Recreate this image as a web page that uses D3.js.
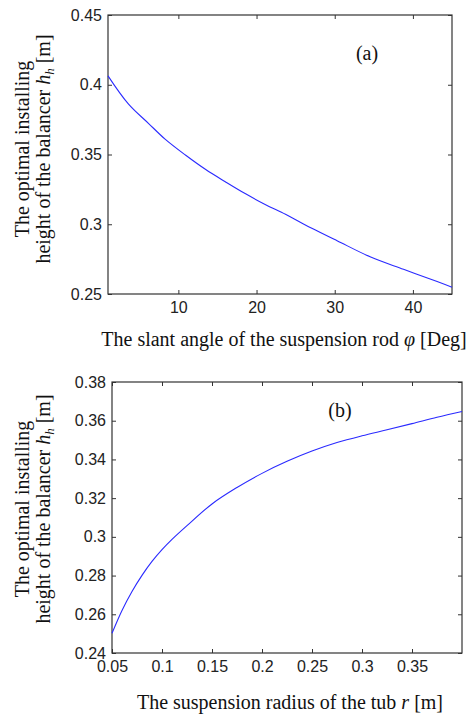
<!DOCTYPE html>
<html><head><meta charset="utf-8">
<script src="https://cdn.jsdelivr.net/npm/d3@7"></script>
<style>
html,body{margin:0;padding:0;background:#fff;}
svg{display:block;}
.tick text{font-family:"Liberation Sans",Arial,sans-serif;font-size:16px;fill:#222;}
.lbl{font-family:"Liberation Serif","Times New Roman",serif;font-size:20px;fill:#111;}
</style>
</head><body>
<script>
// ---- data ----
const angleDeg = [1,3.6,6.2,8.3,10.9,13.5,16,18.6,21.1,23.7,26,30.3,34.6,38.8,43.1,45];
const heightA  = [0.4064,0.3863,0.3722,0.3610,0.3496,0.3392,0.3305,0.3218,0.3142,0.3071,0.3002,0.2882,0.2765,0.2677,0.2589,0.2548];
const radiusM  = [0.05,0.06,0.07,0.08,0.09,0.1,0.11,0.125,0.15,0.175,0.2,0.225,0.25,0.275,0.3,0.325,0.35,0.375,0.4];
const heightB  = [0.2502,0.2620,0.2718,0.2801,0.2873,0.2934,0.2987,0.3058,0.3170,0.3255,0.3328,0.3390,0.3443,0.3487,0.3522,0.3553,0.3585,0.3618,0.3648];
const xTicksA = [10,20,30,40];
const yTicksA = [0.25,0.3,0.35,0.4,0.45];
const xTicksB = [0.05,0.1,0.15,0.2,0.25,0.3,0.35];
const yTicksB = [0.24,0.26,0.28,0.3,0.32,0.34,0.36,0.38];

const W = 470, H = 715;
const svg = d3.select("body").append("svg").attr("width", W).attr("height", H);

function panel(opt){
  const {left,right,top,bottom,xDom,yDom,xs,ys,xt,yt,fmt} = opt;
  const x = d3.scaleLinear().domain(xDom).range([left,right]);
  const y = d3.scaleLinear().domain(yDom).range([bottom,top]);
  const g = svg.append("g");
  const tl = 4;
  const styleAxis = sel => {
    sel.select(".domain").remove();
    sel.selectAll(".tick line").attr("stroke","#333").attr("stroke-width",1);
  };
  g.append("g").attr("transform",`translate(0,${bottom})`)
    .call(d3.axisBottom(x).tickValues(xt).tickFormat(fmt).tickSizeInner(-tl).tickSizeOuter(0).tickPadding(8))
    .call(styleAxis);
  g.append("g").attr("transform",`translate(0,${top})`)
    .call(d3.axisTop(x).tickValues(xt).tickFormat("").tickSizeInner(-tl).tickSizeOuter(0))
    .call(styleAxis);
  g.append("g").attr("transform",`translate(${left},0)`)
    .call(d3.axisLeft(y).tickValues(yt).tickFormat(fmt).tickSizeInner(-tl).tickSizeOuter(0).tickPadding(6))
    .call(styleAxis);
  g.append("g").attr("transform",`translate(${right},0)`)
    .call(d3.axisRight(y).tickValues(yt).tickFormat("").tickSizeInner(-tl).tickSizeOuter(0))
    .call(styleAxis);
  g.append("rect").attr("x",left).attr("y",top).attr("width",right-left).attr("height",bottom-top)
    .attr("fill","none").attr("stroke","#333").attr("stroke-width",1.2);
  const line = d3.line().x((d,i)=>x(xs[i])).y((d,i)=>y(ys[i])).curve(d3.curveCatmullRom.alpha(0.5));
  g.append("path").datum(ys).attr("d",line).attr("fill","none").attr("stroke","#2a2aff").attr("stroke-width",1.1);
  return {x,y,g};
}

const fmt = d => String(+d.toFixed(3));

panel({left:108,right:452,top:15,bottom:294,xDom:[1,45],yDom:[0.25,0.45],
  xs:angleDeg,ys:heightA,xt:xTicksA,yt:yTicksA,fmt});
panel({left:112,right:462,top:382,bottom:653,xDom:[0.05,0.4],yDom:[0.24,0.38],
  xs:radiusM,ys:heightB,xt:xTicksB,yt:yTicksB,fmt});

function ylabel(cx, cy){
  const t = svg.append("text").attr("class","lbl").attr("text-anchor","middle")
    .attr("transform",`translate(${cx},${cy}) rotate(-90)`);
  t.append("tspan").attr("x",0).attr("dy",0).text("The optimal installing");
  const t2 = t.append("tspan").attr("x",0).attr("dy",21.5);
  t2.append("tspan").text("height of the balancer ");
  t2.append("tspan").attr("font-style","italic").text("h");
  t2.append("tspan").attr("font-style","italic").attr("font-size","13px").attr("dy",4).text("h");
  t2.append("tspan").attr("dy",-4).text(" [m]");
}
ylabel(28.5, 149);
ylabel(28.5, 509);

const xl1 = svg.append("text").attr("class","lbl").attr("text-anchor","middle").attr("x",284).attr("y",346);
xl1.append("tspan").text("The slant angle of the suspension rod ");
xl1.append("tspan").attr("font-style","italic").text("φ");
xl1.append("tspan").text("  [Deg]");

const xl2 = svg.append("text").attr("class","lbl").attr("text-anchor","middle").attr("x",290).attr("y",709);
xl2.append("tspan").text("The suspension radius of the tub ");
xl2.append("tspan").attr("font-style","italic").text("r");
xl2.append("tspan").text(" [m]");

svg.append("text").attr("class","lbl").attr("text-anchor","middle").attr("x",367).attr("y",60).text("(a)");
svg.append("text").attr("class","lbl").attr("text-anchor","middle").attr("x",340).attr("y",417).text("(b)");
</script>
</body></html>
